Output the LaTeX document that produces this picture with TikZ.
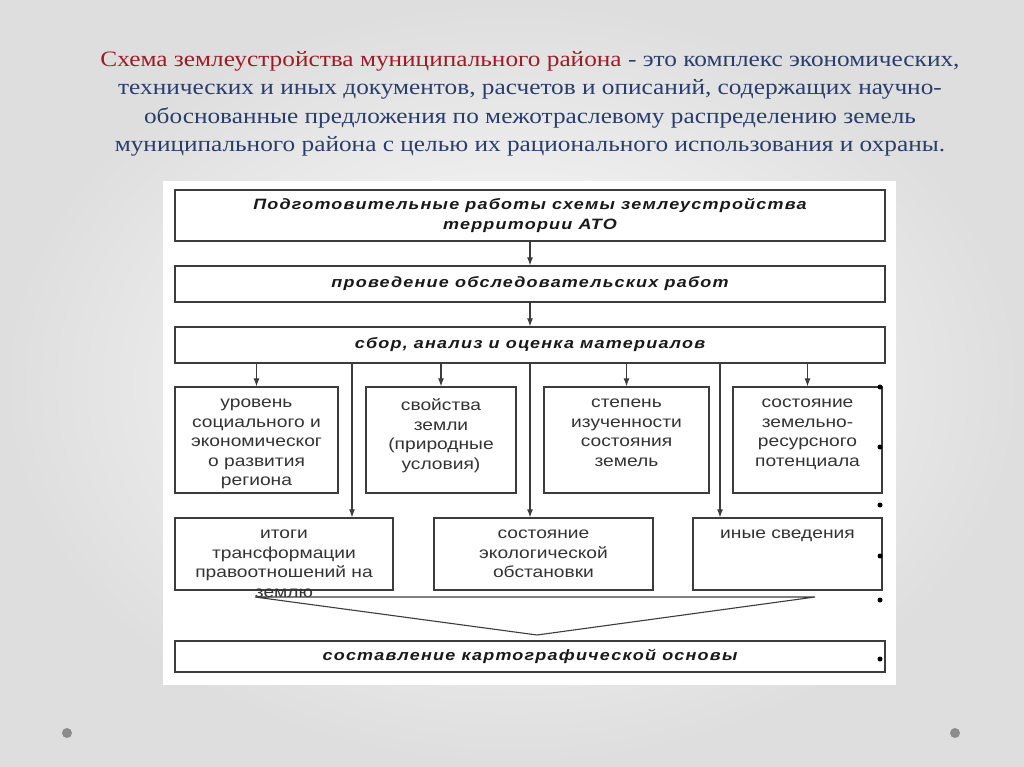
\documentclass[tikz,border=0pt]{standalone}
\usepackage{fontspec}
\setmainfont{Liberation Serif}
\newfontfamily\titlefont[FakeStretch=1.15]{Liberation Serif}
\newfontfamily\headfont[FakeStretch=1.2,LetterSpace=8]{Liberation Sans}
\newfontfamily\cellfont[FakeStretch=1.2]{Liberation Sans}
\usetikzlibrary{positioning,arrows.meta}
\definecolor{titlered}{RGB}{158,28,38}
\definecolor{titleblue}{RGB}{42,62,108}
\definecolor{boxline}{RGB}{60,60,60}

\begin{document}
\begin{tikzpicture}
[
  x=1pt, y=-1pt,
  >={Latex[length=8pt,width=6pt]},
  stagebox/.style={draw=boxline, line width=1.3pt, fill=white, minimum width=710pt,
    minimum height=#1, inner sep=0pt, align=center, text=black!90,
    font=\headfont\bfseries\itshape\fontsize{15}{20}\selectfont},
  cellbox/.style 2 args={draw=boxline, line width=1.3pt, fill=white,
    minimum width=#1, minimum height=#2, inner sep=0pt},
  celltext/.style={inner sep=0pt, align=center, text=black!80,
    font=\cellfont\fontsize{16}{19.5}\selectfont},
  dot/.style={circle, fill=black, inner sep=0pt, minimum size=5pt},
  line width=1.1pt, draw=boxline
]
 % slide background and panel
 \shade[inner color=white, outer color=black!13] (0,0) rectangle (1024,767);
 \fill[white] (163,181) rectangle (896,685);
 \fill[black!45] (67,733) circle (5pt) (955,733) circle (5pt);

 \node[font=\titlefont\fontsize{22}{28.5}\selectfont, align=center, text=titleblue] (title) at (530,104)
   {\textcolor{titlered}{Схема землеустройства муниципального района} - это комплекс экономических,\\
    технических и иных документов, расчетов и описаний, содержащих научно-\\
    обоснованные предложения по межотраслевому распределению земель\\
    муниципального района с целью их рационального использования и охраны.};

 \node[stagebox=51pt] (prep) at (530,215.5) {Подготовительные работы схемы землеустройства\\территории АТО};
 \node[stagebox=36pt] (survey) at (530,284) {проведение обследовательских работ};
 \node[stagebox=36pt] (collect) at (530,345) {сбор, анализ и оценка материалов};

 \node[cellbox={163pt}{106pt}] (level) at (256.5,440) {};
 \node[cellbox={150pt}{106pt}] (props) at (441,440) {};
 \node[cellbox={165pt}{106pt}] (study) at (626.5,440) {};
 \node[cellbox={149pt}{106pt}] (potential) at (807.5,440) {};
 \node[cellbox={218pt}{72pt}] (results) at (284,554) {};
 \node[cellbox={219pt}{72pt}] (ecology) at (543.5,554) {};
 \node[cellbox={189pt}{72pt}] (other) at (787.5,554) {};
 \node[stagebox=31pt] (mapbase) at (530,656.5) {составление картографической основы};

 \node[celltext, below=12pt of level.north] (level-t) {уровень\\социального и\\экономическог\\о развития\\региона};
 \node[celltext, below=12pt of props.north] (props-t) {свойства\\земли\\(природные\\условия)};
 \node[celltext, below=12pt of study.north] (study-t) {степень\\изученности\\состояния\\земель};
 \node[celltext, below=12pt of potential.north] (potential-t) {состояние\\земельно-\\ресурсного\\потенциала};
 \node[celltext, below=12pt of results.north] (results-t) {итоги\\трансформации\\правоотношений на\\землю};
 \node[celltext, below=12pt of ecology.north] (ecology-t) {состояние\\экологической\\обстановки};
 \node[celltext, below=12pt of other.north] (other-t) {иные сведения};

 \coordinate (pass1) at (352,0);
 \coordinate (pass2) at (530,0);
 \coordinate (pass3) at (720,0);
 \coordinate (wedgel) at (255,597);
 \coordinate (wedger) at (815,597);
 \coordinate (apex) at (537,635);

 \draw[->] (prep) -- (survey);
 \draw[->] (survey) -- (collect);
 \foreach \b in {level,props,study,potential}
   \draw[->] (collect.south -| \b.north) -- (\b.north);
 \foreach \p/\b in {pass1/results,pass2/ecology,pass3/other}
   \draw[->] (collect.south -| \p) -- (\b.north -| \p);
 \draw (wedgel) -- (wedger) (wedgel) -- (apex) -- (wedger);

 \foreach \y [count=\i] in {387,447,505,556,600,659}
   \node[dot] (dot\i) at (880,\y) {};
\end{tikzpicture}
\end{document}
